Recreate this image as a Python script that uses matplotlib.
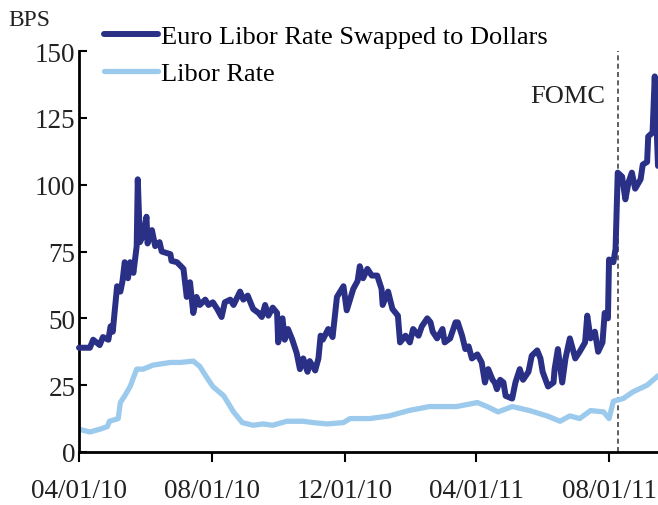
import matplotlib
matplotlib.use("Agg")
import matplotlib.pyplot as plt
import matplotlib.dates as mdates
import pandas as pd

plt.rcParams["font.family"] = ["Liberation Serif", "DejaVu Serif"]

NAVY = "#2b3087"
SKY = "#9ccaec"

# Euro Libor swapped to dollars (bps)
euro_dates = [
    "2010-04-01", "2010-04-11", "2010-04-14", "2010-04-20", "2010-04-23", "2010-04-28",
    "2010-04-30", "2010-05-02", "2010-05-06", "2010-05-09", "2010-05-11", "2010-05-13",
    "2010-05-16", "2010-05-18", "2010-05-21", "2010-05-24", "2010-05-25", "2010-05-27",
    "2010-05-30", "2010-06-02", "2010-06-03", "2010-06-07", "2010-06-10", "2010-06-14",
    "2010-06-16", "2010-06-24", "2010-06-25", "2010-06-30", "2010-07-06", "2010-07-09",
    "2010-07-12", "2010-07-15", "2010-07-18", "2010-07-21", "2010-07-26", "2010-07-29",
    "2010-08-02", "2010-08-06", "2010-08-10", "2010-08-13", "2010-08-18", "2010-08-21",
    "2010-08-27", "2010-08-30", "2010-09-03", "2010-09-08", "2010-09-13", "2010-09-16",
    "2010-09-19", "2010-09-22", "2010-09-26", "2010-09-30", "2010-10-01", "2010-10-05",
    "2010-10-07", "2010-10-10", "2010-10-14", "2010-10-18", "2010-10-21", "2010-10-24",
    "2010-10-28", "2010-10-30", "2010-11-04", "2010-11-07", "2010-11-09", "2010-11-11",
    "2010-11-16", "2010-11-20", "2010-11-24", "2010-11-30", "2010-12-03", "2010-12-09",
    "2010-12-13", "2010-12-15", "2010-12-18", "2010-12-22", "2010-12-26", "2010-12-31",
    "2011-01-04", "2011-01-05", "2011-01-10", "2011-01-14", "2011-01-19", "2011-01-21",
    "2011-01-26", "2011-01-30", "2011-02-02", "2011-02-07", "2011-02-10", "2011-02-15",
    "2011-02-18", "2011-02-20", "2011-02-24", "2011-03-01", "2011-03-03", "2011-03-08",
    "2011-03-13", "2011-03-15", "2011-03-19", "2011-03-22", "2011-03-25", "2011-03-28",
    "2011-04-02", "2011-04-06", "2011-04-09", "2011-04-12", "2011-04-16", "2011-04-18",
    "2011-04-20", "2011-04-23", "2011-04-26", "2011-04-28", "2011-05-04", "2011-05-07",
    "2011-05-11", "2011-05-14", "2011-05-19", "2011-05-22", "2011-05-27", "2011-05-30",
    "2011-06-01", "2011-06-06", "2011-06-11", "2011-06-12", "2011-06-15", "2011-06-19",
    "2011-06-22", "2011-06-26", "2011-07-01", "2011-07-05", "2011-07-10", "2011-07-12",
    "2011-07-15", "2011-07-19", "2011-07-22", "2011-07-26", "2011-07-28", "2011-07-31",
    "2011-08-01", "2011-08-05", "2011-08-07", "2011-08-09", "2011-08-13", "2011-08-16",
    "2011-08-19", "2011-08-22", "2011-08-25", "2011-08-30", "2011-09-01", "2011-09-05",
    "2011-09-06", "2011-09-10", "2011-09-12", "2011-09-15",
]
euro_bps = [
    39, 39, 42, 40, 43, 42,
    47, 45, 62, 60, 64, 71,
    65, 71, 67, 77, 102, 78.5,
    81, 88, 78, 83, 77, 78.5,
    75, 74, 71.5, 71, 68.5, 58,
    63.5, 52, 58, 55, 57, 55,
    56, 53.5, 50.5, 56, 57, 55,
    60, 57, 58.5, 53.5, 52, 50.5,
    55, 51, 54, 52, 41, 50,
    42, 46, 42, 37, 31, 35,
    30, 34, 30.5, 35, 43.5, 42,
    46, 43, 58, 62, 53, 61,
    64, 69.5, 65, 68.5, 66, 66,
    61, 55, 60, 53.5, 51, 41,
    43.5, 41, 46, 43.5, 47, 50,
    48.5, 45, 42.5, 46, 41, 42.5,
    48.5, 48.5, 43.5, 38.5, 39.5, 35,
    36.5, 33.5, 26, 31, 27, 26,
    23.5, 27, 26, 21, 20, 26,
    31, 27, 30, 36, 38, 35,
    30, 24.5, 26, 31, 38.5, 26,
    35, 42.5, 35, 37.5, 41, 51,
    42.5, 45, 37.5, 41, 52, 50,
    72, 71, 76, 104.5, 103, 94.5,
    101, 104.5, 98.5, 102, 107.5, 108.5,
    118, 119.5, 140.5, 107,
]

# Libor rate (bps)
libor_dates = [
    "2010-04-01", "2010-04-11", "2010-04-20", "2010-04-27", "2010-04-29", "2010-05-07",
    "2010-05-09", "2010-05-13", "2010-05-18", "2010-05-24", "2010-05-30", "2010-06-08",
    "2010-06-24", "2010-07-03", "2010-07-15", "2010-07-21", "2010-07-28", "2010-08-02",
    "2010-08-12", "2010-08-21", "2010-08-29", "2010-09-08", "2010-09-17", "2010-09-26",
    "2010-10-09", "2010-10-24", "2010-11-02", "2010-11-15", "2010-11-30", "2010-12-06",
    "2010-12-15", "2010-12-24", "2011-01-11", "2011-01-29", "2011-02-17", "2011-03-14",
    "2011-04-02", "2011-04-11", "2011-04-21", "2011-05-04", "2011-05-20", "2011-06-05",
    "2011-06-17", "2011-06-26", "2011-07-05", "2011-07-15", "2011-07-27", "2011-08-01",
    "2011-08-05", "2011-08-14", "2011-08-23", "2011-09-05", "2011-09-15",
]
libor_bps = [
    8.5, 7.5, 8.5, 9.5, 11.5, 12.5,
    18.5, 21, 24.5, 31, 31, 32.5,
    33.5, 33.5, 34, 32, 27.5, 24.5,
    21, 15, 11, 10, 10.5, 10,
    11.5, 11.5, 11, 10.5, 11, 12.5,
    12.5, 12.5, 13.5, 15.5, 17, 17,
    18.5, 17, 15, 17, 15.5, 13.5,
    11.5, 13.5, 12.5, 15.5, 15, 12.5,
    19, 20, 22.5, 25, 28.5,
]

fomc_date = "2011-08-09"
x_ticks = ["2010-04-01", "2010-08-01", "2010-12-01", "2011-04-01", "2011-08-01"]
y_ticks = [0, 25, 50, 75, 100, 125, 150]

fig = plt.figure(figsize=(6.58, 5.06), dpi=100)
ax = fig.add_axes([79/658, 1 - 453/506, 1 - 79/658, (453 - 52)/506])

ax.plot(pd.to_datetime(euro_dates), euro_bps, color=NAVY, lw=4.3,
        solid_joinstyle="round", solid_capstyle="round",
        label="Euro Libor Rate Swapped to Dollars", clip_on=False, zorder=3)
ax.plot(pd.to_datetime(libor_dates), libor_bps, color=SKY, lw=3.8,
        solid_joinstyle="round", solid_capstyle="round", label="Libor Rate", zorder=2)

fomc = mdates.date2num(pd.Timestamp(fomc_date))
ax.axvline(fomc, color="#444444", lw=1.2, ls=(0, (3, 2)), zorder=1)
ax.annotate("FOMC", xy=(fomc, 133), xycoords="data", xytext=(-9, 0),
            textcoords="offset points", ha="right", va="center", fontsize=19, color="#222222")

ax.set_xlim(pd.Timestamp("2010-04-01"), pd.Timestamp("2011-09-15"))
ax.set_ylim(0, 150)
ax.set_yticks(y_ticks)
ax.set_xticks(pd.to_datetime(x_ticks))
ax.xaxis.set_major_formatter(mdates.DateFormatter("%m/%d/%y"))

for s in ("top", "right"):
    ax.spines[s].set_visible(False)
for s in ("left", "bottom"):
    ax.spines[s].set_linewidth(2)
    ax.spines[s].set_color("black")
ax.tick_params(axis="y", direction="in", length=6, width=1.5, labelsize=19.5, pad=2.5,
               labelcolor="#222222", color="black")
ax.tick_params(axis="x", direction="out", length=7, width=1.5, labelsize=19.5, pad=12,
               labelcolor="#222222", color="black")

fig.text(8/658, 1 - 21/506, "BPS", fontsize=17, va="center", ha="left", color="#222222")

fig.legend(loc="upper left", bbox_to_anchor=(104/658, 1 - 26/506), frameon=False,
           fontsize=19, handlelength=2.05, handletextpad=0.12, labelspacing=0.5,
           borderpad=0, borderaxespad=0)

fig.savefig("out.png", dpi=100)
